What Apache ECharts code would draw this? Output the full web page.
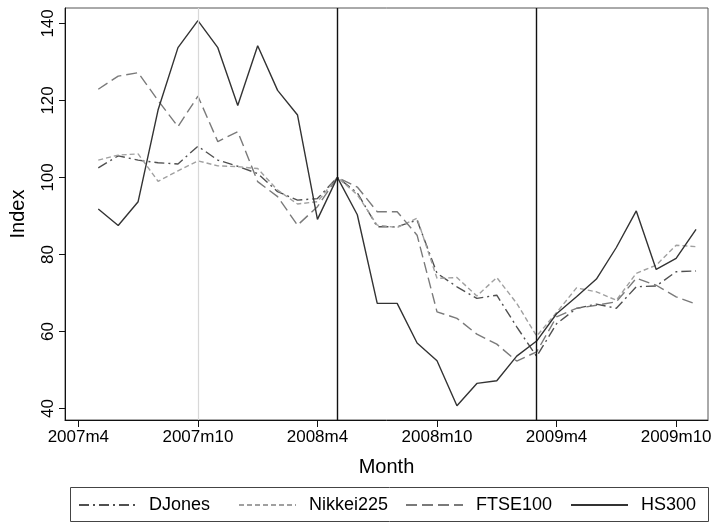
<!DOCTYPE html>
<html>
<head>
<meta charset="utf-8">
<script src="https://cdn.jsdelivr.net/npm/echarts@6/dist/echarts.min.js"></script>
<style>
  html, body { margin: 0; padding: 0; background: #fff; }
  #chart { width: 718px; height: 526px; }
</style>
</head>
<body>
<div id="chart"></div>
<script>
// month index: 0 = 2007m4
const months = [1, 2, 3, 4, 5, 6, 7, 8, 9, 10, 11, 12, 13, 14, 15, 16, 17, 18, 19, 20, 21, 22, 23, 24, 25, 26, 27, 28, 29, 30, 31];

const djones = [102.5, 105.6, 104.5, 103.8, 103.5, 108.1, 104.5, 102.9, 101.0, 96.3, 94.1, 94.5, 100, 96.0, 87.2, 87.2, 88.9, 75.1, 71.6, 68.6, 69.4, 61.2, 53.5, 62.0, 66.0, 67.1, 66.0, 71.6, 71.8, 75.5, 75.7];
const nikkei = [104.5, 105.8, 106.1, 99.0, 101.7, 104.3, 103.0, 102.8, 102.3, 96.7, 93.1, 93.7, 100, 95.5, 87.6, 87.0, 89.4, 73.8, 74.0, 69.2, 74.0, 67.3, 58.8, 64.9, 71.3, 70.3, 68.1, 75.1, 77.2, 82.4, 82.0];
const ftse = [122.9, 126.3, 127.2, 120.0, 113.2, 121.1, 109.3, 111.9, 98.9, 95.0, 87.6, 92.4, 100, 97.5, 91.1, 91.1, 85.0, 65.1, 63.4, 59.3, 56.7, 52.3, 54.7, 63.8, 66.0, 66.8, 67.7, 73.8, 72.0, 69.0, 67.1];
const hs300 = [91.8, 87.5, 93.7, 117.5, 133.7, 140.7, 133.7, 118.7, 134.2, 122.6, 116.2, 89.1, 100, 90.3, 67.3, 67.3, 57.0, 52.4, 40.7, 46.5, 47.2, 53.6, 57.5, 64.6, 69.0, 73.6, 81.8, 91.3, 76.1, 79.0, 86.5];

const xTicks = [0, 6, 12, 18, 24, 30];
const xTickLabels = ['2007m4', '2007m10', '2008m4', '2008m10', '2009m4', '2009m10'];
const yTicks = [40, 60, 80, 100, 120, 140];
const grayLine = [6];
const blackLines = [13, 23];

const font = 'Liberation Sans, Arial, sans-serif';
const pairs = vals => months.map((m, i) => [m, vals[i]]);

const chart = echarts.init(document.getElementById('chart'));

const legendAt = (name, left) => ({
    data: [name],
    left: left,
    top: 496,
    padding: 0,
    itemWidth: 57,
    itemHeight: 14,
    itemStyle: { opacity: 0 },
    textStyle: { fontFamily: font, fontSize: 18, color: '#000', padding: [0, 0, 0, 8] },
    selectedMode: false
});

const option = {
    animation: false,
    backgroundColor: '#fff',
    grid: {
        left: 64, right: 10, top: 8, bottom: 106,
        show: true, borderColor: '#555', borderWidth: 1
    },
    legend: [
        legendAt('DJones', 78),
        legendAt('Nikkei225', 238),
        legendAt('FTSE100', 405),
        legendAt('HS300', 570)
    ],
    graphic: [{
        type: 'rect',
        shape: { x: 70.5, y: 487.5, width: 638, height: 34 },
        style: { fill: 'none', stroke: '#444', lineWidth: 1 }
    }],
    xAxis: {
        type: 'value',
        min: -0.67,
        max: 31.6,
        name: 'Month',
        nameLocation: 'middle',
        nameGap: 37,
        nameTextStyle: { fontFamily: font, fontSize: 20, color: '#000' },
        axisLine: { show: true, onZero: false, lineStyle: { color: '#111', width: 1 } },
        axisTick: { show: true, customValues: xTicks, length: 7, lineStyle: { color: '#111' } },
        axisLabel: {
            customValues: xTicks,
            formatter: v => xTickLabels[xTicks.indexOf(v)],
            fontFamily: font, fontSize: 17, color: '#000', margin: 9
        },
        splitLine: { show: false }
    },
    yAxis: {
        type: 'value',
        min: 37,
        max: 144,
        name: 'Index',
        nameLocation: 'middle',
        nameRotate: 90,
        nameGap: 37,
        nameTextStyle: { fontFamily: font, fontSize: 20, color: '#000' },
        axisLine: { show: true, onZero: false, lineStyle: { color: '#111', width: 1 } },
        axisTick: { show: true, customValues: yTicks, length: 6, lineStyle: { color: '#111' } },
        axisLabel: {
            customValues: yTicks,
            rotate: 90,
            fontFamily: font, fontSize: 17, color: '#000', margin: 8
        },
        splitLine: { show: false }
    },
    series: [
        {
            name: 'DJones', type: 'line', symbol: 'none', data: pairs(djones),
            itemStyle: { color: '#505050' },
            lineStyle: { color: '#505050', width: 1.4, type: [10, 4, 2, 4] },
            z: 3
        },
        {
            name: 'Nikkei225', type: 'line', symbol: 'none', data: pairs(nikkei),
            itemStyle: { color: '#a0a0a0' },
            lineStyle: { color: '#a0a0a0', width: 1.4, type: [5, 3] },
            z: 3
        },
        {
            name: 'FTSE100', type: 'line', symbol: 'none', data: pairs(ftse),
            itemStyle: { color: '#7a7a7a' },
            lineStyle: { color: '#7a7a7a', width: 1.4, type: [11, 5] },
            z: 3
        },
        {
            name: 'HS300', type: 'line', symbol: 'none', data: pairs(hs300),
            itemStyle: { color: '#333' },
            lineStyle: { color: '#333', width: 1.4, type: 'solid' },
            z: 4,
            markLine: {
                silent: true,
                symbol: 'none',
                label: { show: false },
                data: [
                    ...grayLine.map(v => ({ xAxis: v, lineStyle: { color: '#d8d8d8', width: 1.2, type: 'solid' } })),
                    ...blackLines.map(v => ({ xAxis: v, lineStyle: { color: '#111', width: 1.4, type: 'solid' } }))
                ]
            }
        }
    ]
};

chart.setOption(option);
</script>
</body>
</html>
